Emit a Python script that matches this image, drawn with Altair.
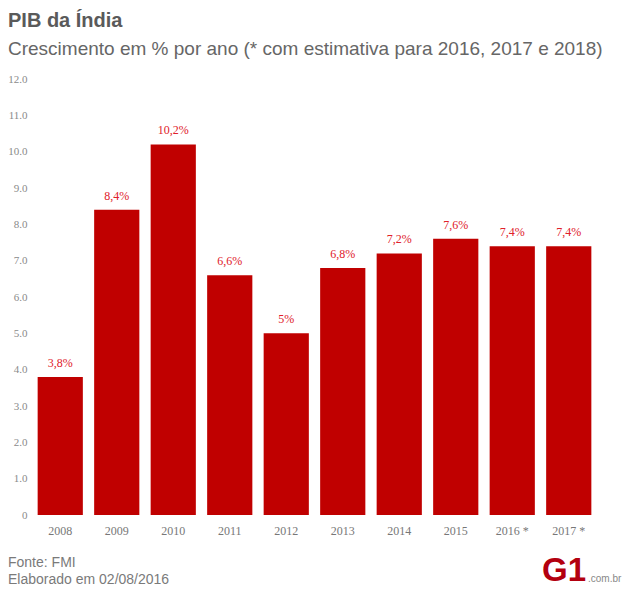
import altair as alt
import pandas as pd

years = ["2008", "2009", "2010", "2011", "2012", "2013", "2014", "2015", "2016 *", "2017 *"]
growth = [3.8, 8.4, 10.2, 6.6, 5.0, 6.8, 7.2, 7.6, 7.4, 7.4]
value_labels = ["3,8%", "8,4%", "10,2%", "6,6%", "5%", "6,8%", "7,2%", "7,6%", "7,4%", "7,4%"]
y_ticks = [0, 1, 2, 3, 4, 5, 6, 7, 8, 9, 10, 11, 12]

title_text = "PIB da Índia"
subtitle_text = "Crescimento em % por ano (* com estimativa para 2016, 2017 e 2018)"
source_text = "Fonte: FMI"
made_text = "Elaborado em 02/08/2016"

df = pd.DataFrame({"ano": years, "pib": growth, "rotulo": value_labels})

W, H = 565, 436
SERIF = "Liberation Serif"
SANS = "Liberation Sans"

base = alt.Chart(df).encode(
    x=alt.X(
        "ano:N",
        sort=years,
        scale=alt.Scale(paddingInner=0.2, paddingOuter=0.1),
        axis=alt.Axis(
            title=None, labelAngle=0, labelFont=SERIF, labelFontSize=12,
            labelColor="#777777", ticks=False, domain=False, labelPadding=10,
        ),
    ),
    y=alt.Y(
        "pib:Q",
        scale=alt.Scale(domain=[0, 12], nice=False),
        axis=alt.Axis(
            title=None, values=y_ticks,
            labelExpr="datum.value == 0 ? '0' : format(datum.value, '.1f')",
            grid=False, ticks=False, domain=False, labelFont=SERIF,
            labelFontSize=11, labelColor="#8a8a8a", labelPadding=5,
        ),
    ),
)

bars = base.mark_bar(color="#c00000")
texts = base.mark_text(
    dy=-7, baseline="bottom", font=SERIF, fontSize=12, color="#e0202a"
).encode(text="rotulo:N")


def label(txt, x, y, size, color, bold=False, font=SANS, align="left"):
    return alt.Chart(pd.DataFrame({"t": [txt]})).mark_text(
        align=align, baseline="alphabetic", font=font, fontSize=size,
        color=color, fontWeight="bold" if bold else "normal",
    ).encode(x=alt.value(x), y=alt.value(y), text="t:N")


title = label(title_text, -24, -52, 20, "#5a5a5a", bold=True)
subtitle = label(subtitle_text, -24, -24, 19, "#666666")
source = label(source_text, -24, 488, 14, "#7a7a7a")
made = label(made_text, -24, 505, 14, "#7a7a7a")
logo = label("G1", 510, 502, 33, "#b3000f", bold=True)
logo2 = label(".com.br", 556, 503, 10, "#888888")

chart = alt.layer(bars, texts, title, subtitle, source, made, logo, logo2).properties(
    width=W,
    height=H,
    autosize=alt.AutoSizeParams(type="none"),
    padding={"left": 24, "top": 71, "right": 25, "bottom": 74},
).configure(background="white").configure_view(stroke=None)

chart.save("out.html", embed_options={"renderer": "svg", "actions": False})
